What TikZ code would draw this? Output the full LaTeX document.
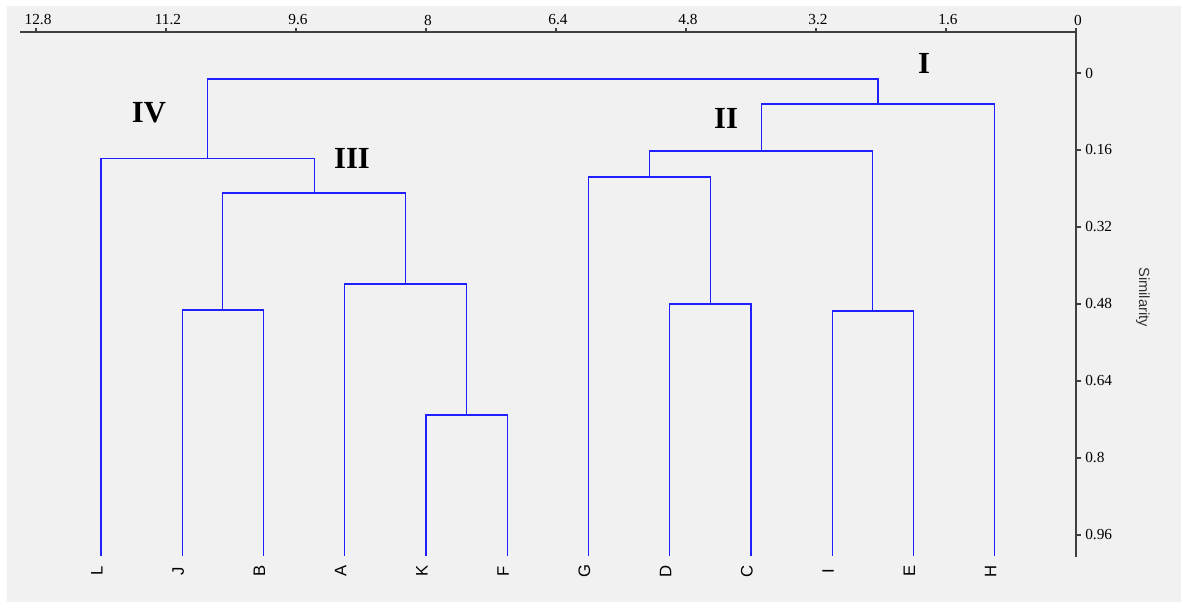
\documentclass[tikz,border=0pt]{standalone}
\usepackage{fontspec}
\setmainfont{Liberation Serif}
\newfontfamily\lsans{Liberation Sans}
\definecolor{bg}{HTML}{F1F1F1}
\definecolor{linkblue}{HTML}{2020FF}
\begin{document}
\begin{tikzpicture}[x=0.75pt,y=-0.75pt,
 link/.style={draw=linkblue, line width=0.85pt},
 axisline/.style={draw=black!75, line width=0.8pt},
 tlabel/.style={font=\fontsize{11.5}{13}\selectfont, inner sep=0pt},
 rlabel/.style={font=\fontsize{11.5}{13}\selectfont, inner sep=0pt, anchor=west},
 leaflab/.style={font=\lsans\fontsize{12.5}{13}\selectfont, rotate=90, inner sep=0pt},
 roman/.style={font=\bfseries\fontsize{23}{24}\selectfont, inner sep=0pt}]
\fill[white] (0,0) rectangle (1181,602);
\fill[bg] (7,6) rectangle (1181,602);
\useasboundingbox (0,0) rectangle (1181,602);
% axes
\coordinate (axL) at (20,32);
\coordinate (axC) at (1076,32);
\coordinate (axB) at (1076,557);
\draw[axisline] (axL) -- (axC) -- (axB);
\foreach \v/\t [count=\i] in {12.8/12.8,11.2/11.2,9.6/9.6,8/8,6.4/6.4,4.8/4.8,3.2/3.2,1.6/1.6,0/0}{
  \draw[axisline] ({1076-81.25*\v},32) -- ++(0,-4);
  \node[tlabel] (top\i) at ({1078-81.25*\v},20) {\t};
}
\foreach \s/\t [count=\i] in {0/0,0.16/0.16,0.32/0.32,0.48/0.48,0.64/0.64,0.8/0.8,0.96/0.96}{
  \draw[axisline] (1076,{73+481.25*\s}) -- ++(5,0);
  \node[rlabel] (rt\i) at (1085,{73+481.25*\s}) {\t};
}
\node[font=\lsans\fontsize{11}{12}\selectfont, rotate=-90, text=black!80, inner sep=0pt] (simlab) at (1143,297) {Similarity};
% leaves
\foreach \n/\k in {H/1,E/2,I/3,C/4,D/5,G/6,F/7,K/8,A/9,B/10,J/11,L/12}{
  \coordinate (\n) at ({1076-81.25*\k},556);
  \node[leaflab] (lab\n) at ({1072-81.25*\k},571) {\n};
}
% merges
\coordinate (KF) at (466.6,415);
\coordinate (AKF) at (405.7,284);
\coordinate (JB) at (222.9,310);
\coordinate (IIIm) at (314.3,193);
\coordinate (IVm) at (207.7,158.7);
\coordinate (DC) at (710.4,304);
\coordinate (GDC) at (649.4,177);
\coordinate (IE) at (872.9,311);
\coordinate (IIm) at (761.2,151);
\coordinate (IIH) at (878,104);
\coordinate (ROOT) at (542.8,79);
\draw[link] (K) |- (KF) -| (F);
\draw[link] (A) |- (AKF) -| (KF);
\draw[link] (J) |- (JB) -| (B);
\draw[link] (JB) |- (IIIm) -| (AKF);
\draw[link] (L) |- (IVm) -| (IIIm);
\draw[link] (D) |- (DC) -| (C);
\draw[link] (G) |- (GDC) -| (DC);
\draw[link] (I) |- (IE) -| (E);
\draw[link] (GDC) |- (IIm) -| (IE);
\draw[link] (IIm) |- (IIH) -| (H);
\draw[link] (IVm) |- (ROOT) -| (IIH);
% cluster labels
\node[roman] (lI) at (924,63) {I};
\node[roman] (lII) at (726,118) {II};
\node[roman] (lIII) at (352,158) {III};
\node[roman] (lIV) at (149,113) {IV};
\end{tikzpicture}
\end{document}
